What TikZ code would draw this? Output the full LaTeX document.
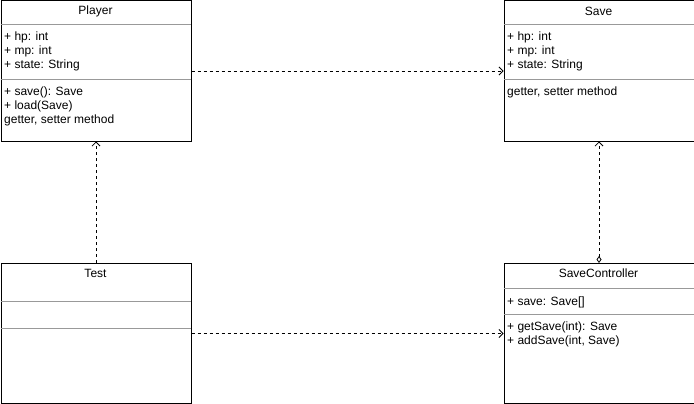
\documentclass[tikz,border=0pt]{standalone}
\usepackage{fontspec}
\setmainfont{Liberation Sans}
\usetikzlibrary{arrows.meta,positioning}

\begin{document}
\begin{tikzpicture}[x=1pt,y=-1pt]
\useasboundingbox (0,0) rectangle (694,404);

\tikzstyle{classbox}= [draw=black, line width=1pt, fill=none,
 minimum width=190pt, minimum height=140pt, inner sep=0pt, anchor=north west];
\tikzstyle{classname}= [font=\fontsize{12}{14}\selectfont, inner sep=0pt];
\tikzstyle{member}= [font=\fontsize{12}{14}\selectfont, inner sep=0pt, anchor=west];
\tikzstyle{sep}= [draw=gray!80, line width=1pt];
\tikzstyle{dep}= [draw=black, line width=0.8pt, dash pattern=on 3pt off 3pt,
 -{Straight Barb[length=4pt,width=8pt]}];

  % class boxes
  \node[classbox] (player) at (0.5,0.5) {};
  \node[classbox] (save) at (503.5,0.5) {};
  \node[classbox] (test) at (0.5,263) {};
  \node[classbox] (ctrl) at (503.5,263) {};

  % Player
  \node[classname] (playerT) at (95.5,11) {Player};
  \draw[sep] (0.5,24.5) -- (190.5,24.5);
  \draw[sep] (0.5,79.5) -- (190.5,79.5);
  \node[member] (player1) at (4,37) {+ hp: int};
  \node[member] (player2) at (4,51) {+ mp: int};
  \node[member] (player3) at (4,65) {+ state: String};
  \node[member] (player4) at (4,92) {+ save(): Save};
  \node[member] (player5) at (4,106) {+ load(Save)};
  \node[member] (player6) at (4,120) {getter, setter method};

  % Save
  \node[classname] (saveT) at (598.5,11) {Save};
  \draw[sep] (503.5,24.5) -- (693.5,24.5);
  \draw[sep] (503.5,79.5) -- (693.5,79.5);
  \node[member] (save1) at (507,37) {+ hp: int};
  \node[member] (save2) at (507,51) {+ mp: int};
  \node[member] (save3) at (507,65) {+ state: String};
  \node[member] (save4) at (507,92) {getter, setter method};

  % Test
  \node[classname] (testT) at (95.5,273) {Test};
  \draw[sep] (0.5,301) -- (190.5,301);
  \draw[sep] (0.5,328) -- (190.5,328);

  % SaveController
  \node[classname] (ctrlT) at (598.5,273) {SaveController};
  \draw[sep] (503.5,288) -- (693.5,288);
  \draw[sep] (503.5,314) -- (693.5,314);
  \node[member] (ctrl1) at (507,302) {+ save: Save[]};
  \node[member] (ctrl2) at (507,327) {+ getSave(int): Save};
  \node[member] (ctrl3) at (507,341) {+ addSave(int, Save)};

\draw[dep] (player.east) -- (save.west);
\draw[dep] (test.east) -- (ctrl.west);
\draw[dep] (test.north) -- (player.south);
\draw[dep, {Diamond[open,length=7pt,width=5pt]}-{Straight Barb[length=4pt,width=8pt]}]
  (ctrl.north) -- (save.south);

\end{tikzpicture}
\end{document}
